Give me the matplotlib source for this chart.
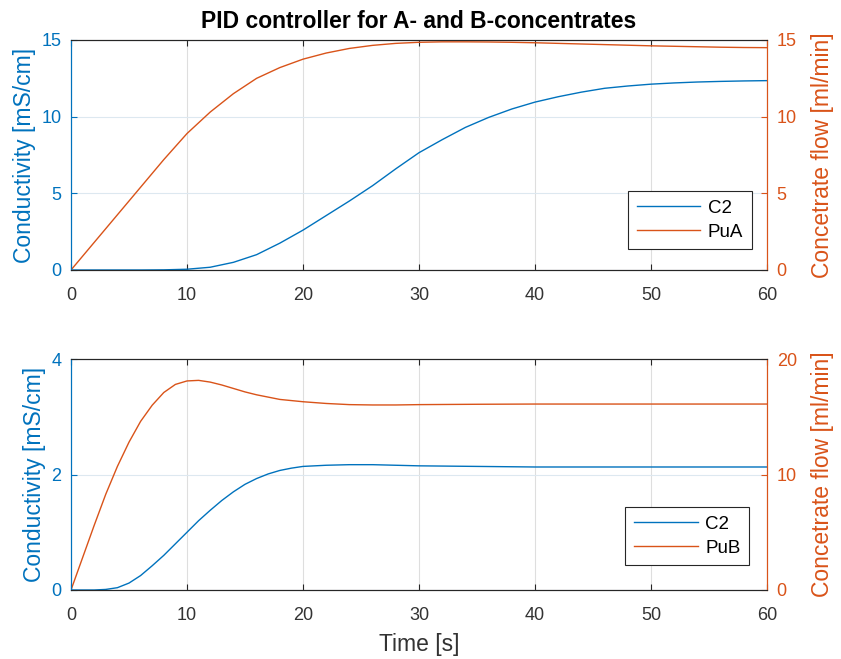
import numpy as np
import matplotlib
matplotlib.use("Agg")
import matplotlib.pyplot as plt
from matplotlib.ticker import MultipleLocator

plt.rcParams['font.family'] = ['Liberation Sans', 'DejaVu Sans']

BLUE = '#0072BD'
ORANGE = '#D95319'
DARK = '#262626'

t_top = [0, 2, 4, 6, 8, 10, 12, 14, 16, 18, 20, 22, 24, 26, 28, 30, 32, 34, 36, 38,
         40, 42, 44, 46, 48, 50, 52, 54, 56, 58, 60]
c2_top = [0, 0, 0, 0, 0.01, 0.05, 0.18, 0.5, 1.0, 1.75, 2.6, 3.55, 4.5, 5.5, 6.6,
          7.65, 8.5, 9.3, 9.95, 10.5, 10.95, 11.3, 11.6, 11.85, 12.0, 12.12, 12.2,
          12.26, 12.3, 12.33, 12.35]
pua = [0, 1.8, 3.6, 5.4, 7.2, 8.9, 10.3, 11.5, 12.5, 13.2, 13.75, 14.15, 14.45, 14.65,
       14.78, 14.85, 14.88, 14.88, 14.87, 14.85, 14.82, 14.78, 14.74, 14.7, 14.66, 14.62,
       14.59, 14.56, 14.53, 14.51, 14.5]

t_bot = [0, 1, 2, 3, 4, 5, 6, 7, 8, 9, 10, 11, 12, 13, 14, 15, 16, 17, 18, 19, 20,
         22, 24, 26, 28, 30, 35, 40, 45, 50, 55, 60]
c2_bot = [0, 0, 0, 0.01, 0.04, 0.12, 0.25, 0.42, 0.6, 0.8, 1.0, 1.2, 1.38, 1.55, 1.7,
          1.83, 1.93, 2.01, 2.07, 2.11, 2.14, 2.16, 2.17, 2.17, 2.16, 2.15, 2.14, 2.13,
          2.13, 2.13, 2.13, 2.13]
pub = [0, 2.8, 5.6, 8.3, 10.7, 12.8, 14.6, 16.0, 17.1, 17.8, 18.1, 18.15, 18.0, 17.75,
       17.45, 17.15, 16.9, 16.7, 16.5, 16.4, 16.3, 16.15, 16.05, 16.02, 16.02, 16.05,
       16.08, 16.1, 16.1, 16.1, 16.1, 16.1]

fig = plt.figure(figsize=(8.41, 6.59), dpi=100)
W, H = 841, 659


def make_axes(top_px, bot_px, c2, pu, t, lylim, lystep, rylim, rystep, pu_label, leg_anchor):
    ax = fig.add_axes([71 / W, 1 - bot_px / H, (767 - 71) / W, (bot_px - top_px) / H])
    ax2 = ax.twinx()
    l1, = ax.plot(t, c2, color=BLUE, lw=1.0, label='C2')
    l2, = ax2.plot(t, pu, color=ORANGE, lw=1.0, label=pu_label)
    ax.set_xlim(0, 60)
    ax.set_ylim(*lylim)
    ax2.set_ylim(*rylim)
    ax.xaxis.set_major_locator(MultipleLocator(10))
    ax.yaxis.set_major_locator(MultipleLocator(lystep))
    ax2.yaxis.set_major_locator(MultipleLocator(rystep))
    ax.grid(True, axis='x', color='#dedede', lw=0.8)
    ax.grid(True, axis='y', color='#dde8f0', lw=0.8)
    for a in (ax, ax2):
        a.spines['top'].set_color(DARK)
        a.spines['bottom'].set_color(DARK)
        a.spines['left'].set_color(BLUE)
        a.spines['right'].set_color(ORANGE)
    ax.tick_params(axis='x', direction='in', colors=DARK, labelsize=13, top=True,
                   length=4, pad=12, labelcolor='#333333')
    ax.tick_params(axis='y', direction='in', colors=BLUE, labelsize=13, length=4, pad=7)
    ax2.tick_params(axis='y', direction='in', colors=ORANGE, labelsize=13, length=4, pad=7)
    ax.set_ylabel('Conductivity [mS/cm]', color=BLUE, fontsize=16.5, labelpad=4)
    ax2.set_ylabel('Concetrate flow [ml/min]', color=ORANGE, fontsize=16.5, labelpad=10)
    leg = ax2.legend([l1, l2], ['C2', pu_label], loc='lower right',
                     bbox_to_anchor=leg_anchor, fancybox=False, framealpha=1,
                     edgecolor=DARK, fontsize=13.5, handlelength=3.4, handletextpad=0.4,
                     borderpad=0.45, labelspacing=0.35, borderaxespad=0)
    leg.get_frame().set_linewidth(0.8)
    ax.set_axisbelow(True)
    return ax, ax2


ax_top, _ = make_axes(40, 270, c2_top, pua, t_top, (0, 15), 5, (0, 15), 5, 'PuA',
                      (0.978, 0.091))
ax_bot, _ = make_axes(359, 590, c2_bot, pub, t_bot, (0, 4), 2, (0, 20), 10, 'PuB',
                      (0.974, 0.108))

ax_top.set_title('PID controller for A- and B-concentrates', fontsize=16.5,
                 fontweight='bold', color='black', pad=9)
ax_bot.set_xlabel('Time [s]', fontsize=16.5, color='#333333', labelpad=7)

fig.savefig('out.png', dpi=100)
